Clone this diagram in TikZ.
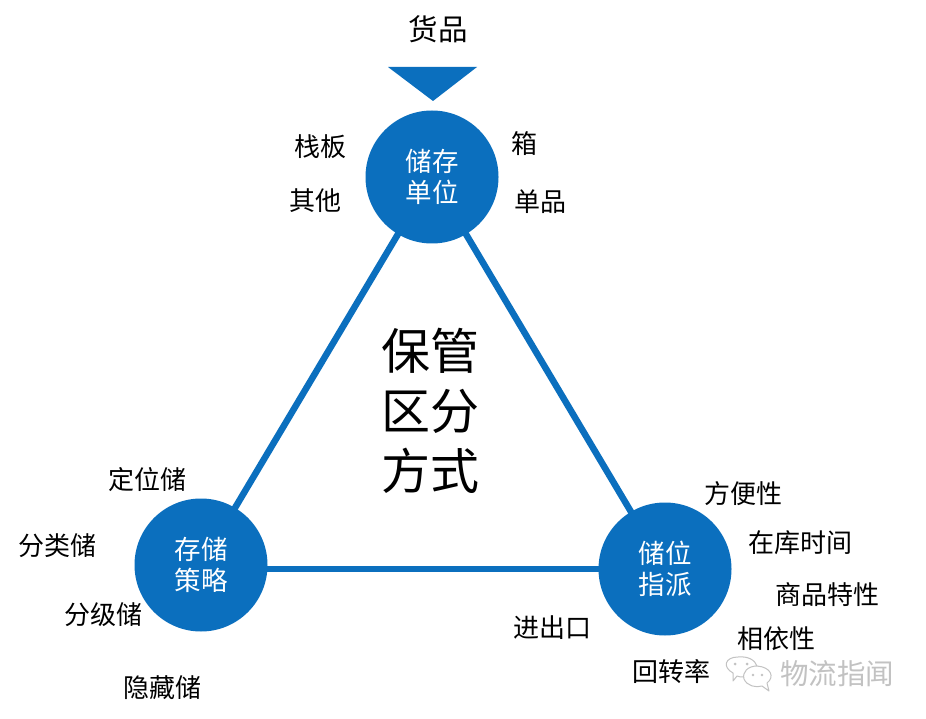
\documentclass[tikz,border=0pt]{standalone}
\usepackage{fontspec}
\usetikzlibrary{backgrounds}
\setmainfont{Noto Sans CJK SC}
\definecolor{hub}{HTML}{0B6FBE}
\definecolor{wmgray}{HTML}{C2C2C2}
\tikzset{
  hubnode/.style={circle,fill=hub,text=white,minimum size=133pt,inner sep=0pt,align=center,font=\fontsize{26.5}{31}\selectfont},
  side/.style={black,inner sep=0pt,font=\fontsize{26}{30}\selectfont},
  link/.style={draw=hub,line width=6.5pt},
  bubble/.style={draw=wmgray,line width=1pt,fill=white,line join=round}
}
\begin{document}
\begin{tikzpicture}[x=1pt,y=-1pt]
\useasboundingbox (0,0) rectangle (926,719);
\node[hubnode] (sku) at (432,177) {储存\\单位};
\node[hubnode] (strategy) at (201,565) {存储\\策略};
\node[hubnode] (assign) at (665,569) {储位\\指派};
\begin{scope}[on background layer]
\fill[white] (0,0) rectangle (926,719);
\draw[link] (sku.center) -- (strategy.center);
\draw[link] (sku.center) -- (assign.center);
\draw[link] (assign.center) -- (assign.center -| strategy.center);
\end{scope}
\fill[hub] (388,67) -- (477,67) -- (433,101) -- cycle;
\node[black,inner sep=0pt,font=\fontsize{29.5}{34}\selectfont] (goods) at (438,29) {货品};
\node[black,inner sep=0pt,align=center,font=\fontsize{49}{60}\selectfont] (center) at (430,411) {保管\\区分\\方式};
\node[side] (a1) at (320,147) {栈板};
\node[side] (a2) at (315,201) {其他};
\node[side] (a3) at (524,144) {箱};
\node[side] (a4) at (540,202) {单品};
\node[side] (b1) at (147,480) {定位储};
\node[side] (b2) at (57,546) {分类储};
\node[side] (b3) at (103,615) {分级储};
\node[side] (b4) at (162,688) {隐藏储};
\node[side] (c1) at (743,494) {方便性};
\node[side] (c2) at (800,543) {在库时间};
\node[side] (c3) at (827,595) {商品特性};
\node[side] (c4) at (776,639) {相依性};
\node[side] (c5) at (552,628) {进出口};
\node[side] (c6) at (671,672) {回转率};
\node[text=wmgray,inner sep=0pt,font=\fontsize{28.5}{32}\selectfont] (wm) at (837,674) {物流指闻};
% WeChat mark
\draw[bubble] (737,676) -- (733,681) -- (733,673) .. controls (722,667) and (725,657) .. (738,657) .. controls (748,656) and (755,660) .. (757,666) .. controls (747,668) and (744,674) .. (744,677) .. controls (741,677) and (739,677) .. (737,676) -- cycle;
\draw[bubble] (762,686) -- (769,691) -- (767,683) .. controls (775,677) and (771,667) .. (757,666) .. controls (748,666) and (742,672) .. (744,679) .. controls (747,686) and (756,688) .. (762,686) -- cycle;
\fill[wmgray] (735,664) circle (1.5) (747,664) circle (1.5) (753,675) circle (1.3) (762,675) circle (1.3);
\end{tikzpicture}
\end{document}
